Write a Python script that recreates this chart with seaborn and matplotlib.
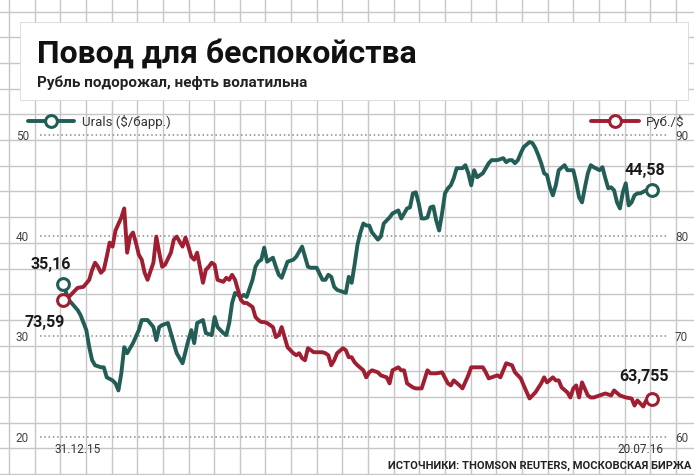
import numpy as np
import pandas as pd
import matplotlib
matplotlib.use('Agg')
import matplotlib.pyplot as plt
from matplotlib.lines import Line2D
from matplotlib.patches import Rectangle
from matplotlib import font_manager as fm
import seaborn as sns

# days since 31.12.15 and Urals price, $/bbl (left axis)
urals_days = [0, 2, 5, 6, 8, 9, 10, 11, 13, 14,
              15, 17, 18, 19, 20, 21, 22, 24, 26, 27,
              29, 31, 32, 33, 34, 36, 37, 38, 39, 41,
              43, 44, 45, 46, 48, 49, 51, 52, 53, 55,
              56, 57, 58, 59, 60, 61, 62, 63, 65, 66,
              67, 68, 69, 70, 72, 73, 74, 75, 76, 77,
              79, 80, 81, 82, 83, 84, 85, 86, 87, 89,
              90, 91, 92, 93, 94, 96, 97, 98, 99, 100,
              101, 102, 103, 104, 105, 106, 108, 109, 110, 111,
              112, 113, 115, 116, 117, 118, 119, 120, 121, 122,
              123, 124, 125, 126, 127, 128, 129, 130, 131, 132,
              133, 134, 135, 137, 138, 139, 140, 141, 142, 144,
              145, 146, 147, 149, 150, 151, 152, 153, 154, 155,
              156, 157, 158, 160, 161, 162, 163, 164, 165, 166,
              167, 168, 169, 170, 172, 173, 174, 175, 176, 177,
              178, 179, 180, 181, 182, 184, 185, 186, 187, 188,
              189, 190, 191, 192, 193, 194, 195, 196, 197, 198,
              200, 202]
urals = [35.16, 33.6, 32.6, 32.1, 30.6, 28.9, 27.6, 27.1, 26.9, 26.9,
         25.9, 25.6, 25.3, 24.6, 26.3, 28.9, 28.3, 29.3, 30.6, 31.6,
         31.6, 30.9, 29.6, 30.9, 31.1, 31.3, 30.3, 29.3, 28.3, 27.3,
         29.6, 30.6, 29.3, 31.3, 31.6, 30.3, 30.1, 31.9, 30.9, 30.3,
         30.1, 31.3, 33.3, 34.3, 34.1, 33.9, 34.1, 33.9, 35.6, 36.9,
         37.4, 37.6, 38.8, 37.4, 37.8, 36.9, 36.1, 35.8, 36.6, 37.4,
         37.6, 37.9, 38.4, 38.9, 37.9, 36.9, 36.8, 36.8, 36.8, 35.6,
         35.6, 36.1, 35.9, 34.9, 34.6, 34.4, 34.3, 35.9, 35.3, 37.1,
         39.1, 40.3, 41.2, 41.0, 41.0, 40.3, 39.6, 39.9, 41.2, 41.5,
         41.8, 42.2, 42.5, 41.7, 42.2, 42.7, 42.8, 44.2, 44.3, 43.2,
         41.7, 41.7, 41.8, 42.8, 42.9, 41.5, 40.5, 42.2, 44.2, 44.7,
         45.0, 45.7, 46.7, 46.7, 47.0, 46.2, 45.0, 46.5, 45.8, 46.2,
         46.7, 47.2, 47.5, 47.5, 47.6, 47.7, 47.3, 47.5, 47.5, 47.2,
         47.5, 48.2, 48.8, 49.3, 49.2, 48.7, 48.0, 47.2, 46.2, 46.0,
         44.8, 44.0, 45.0, 46.5, 47.0, 46.5, 46.5, 46.5, 45.3, 43.8,
         43.3, 44.8, 46.2, 47.0, 46.8, 46.5, 46.8, 45.7, 44.7, 44.8,
         44.5, 43.3, 42.7, 44.3, 45.2, 43.0, 43.3, 44.0, 44.2, 44.2,
         44.5, 44.58]

# days since 31.12.15 and RUB per USD (right axis)
rub_days = [0, 2, 5, 7, 9, 10, 11, 12, 13, 14,
            15, 16, 17, 18, 20, 21, 22, 23, 24, 25,
            26, 27, 28, 29, 31, 32, 33, 34, 35, 37,
            38, 39, 41, 42, 43, 44, 45, 46, 48, 49,
            50, 51, 52, 53, 55, 56, 57, 58, 59, 60,
            61, 62, 63, 65, 66, 67, 68, 69, 70, 72,
            73, 74, 75, 76, 77, 79, 80, 81, 82, 83,
            84, 85, 86, 87, 89, 90, 91, 92, 93, 94,
            96, 97, 98, 99, 100, 101, 103, 104, 105, 106,
            108, 109, 111, 112, 113, 115, 116, 117, 118, 120,
            121, 122, 123, 125, 126, 128, 130, 132, 133, 134,
            136, 137, 139, 140, 142, 144, 145, 146, 149, 150,
            151, 152, 154, 155, 157, 158, 160, 162, 164, 165,
            166, 168, 169, 170, 171, 173, 174, 175, 176, 177,
            178, 180, 181, 182, 184, 186, 188, 189, 191, 193,
            195, 196, 197, 199, 200, 202]
rub = [73.59, 73.9, 74.8, 74.9, 75.6, 76.6, 77.3, 76.9, 76.3, 76.6,
       77.9, 79.3, 78.9, 80.5, 81.8, 82.7, 78.3, 79.9, 80.3, 79.3,
       78.1, 77.6, 76.3, 75.6, 77.3, 79.9, 78.3, 76.9, 77.1, 78.3,
       79.6, 79.9, 78.9, 79.8, 78.9, 77.9, 77.6, 78.3, 75.3, 76.6,
       76.9, 77.3, 77.1, 75.6, 75.4, 75.8, 75.6, 76.1, 75.6, 74.6,
       73.6, 73.3, 73.3, 72.9, 71.9, 71.6, 71.4, 71.4, 71.3, 70.9,
       69.9, 70.1, 70.9, 69.9, 68.9, 68.3, 68.1, 68.3, 67.8, 67.6,
       68.8, 68.6, 68.4, 68.4, 68.4, 68.3, 68.1, 67.1, 67.6, 68.3,
       68.8, 68.6, 67.9, 67.9, 67.4, 67.1, 66.6, 65.9, 66.4, 66.6,
       66.4, 66.1, 65.9, 65.3, 66.6, 66.9, 66.6, 66.6, 65.3, 64.9,
       64.8, 64.8, 64.8, 66.6, 66.3, 66.3, 66.4, 65.3, 65.1, 65.6,
       65.1, 64.8, 66.1, 66.9, 66.9, 66.9, 66.4, 65.8, 66.1, 65.9,
       66.6, 67.3, 67.1, 66.4, 65.8, 65.1, 63.8, 64.4, 65.3, 65.9,
       65.4, 65.9, 65.6, 65.6, 64.9, 64.4, 63.9, 64.8, 65.1, 63.9,
       65.4, 64.1, 63.9, 63.9, 64.1, 64.3, 64.1, 64.6, 64.1, 63.9,
       63.8, 63.1, 63.6, 63.0, 63.6, 63.755]

left_ticks = [20, 30, 40, 50]
right_ticks = [60, 70, 80, 90]
start_date = pd.Timestamp('2015-12-31')
date_labels = ['31.12.15', '20.07.16']

title = 'Повод для беспокойства'
subtitle = 'Рубль подорожал, нефть волатильна'
urals_name = 'Urals ($/барр.)'
rub_name = 'Руб./$'
source = 'ИСТОЧНИКИ: THOMSON REUTERS, МОСКОВСКАЯ БИРЖА'

teal = '#235e56'
red = '#a01e32'

sns.set_theme(style='white')
names = {f.name for f in fm.fontManager.ttflist}
head = 'Roboto' if 'Roboto' in names else 'DejaVu Sans'
narrow = head
plt.rcParams['font.family'] = [head, 'DejaVu Sans']

W, H = 694, 475
fig = plt.figure(figsize=(W / 100, H / 100), dpi=100)
fig.patch.set_facecolor('white')

# graph-paper background
bg = fig.add_axes([0, 0, 1, 1])
bg.set_xlim(0, W)
bg.set_ylim(H, 0)
bg.axis('off')
for gx in np.arange(9, W, 25.65):
    bg.axvline(gx, color='#c6c6c6', lw=1.0, zorder=0)
for gy in np.arange(11.5, H, 25.7):
    bg.axhline(gy, color='#c6c6c6', lw=1.0, zorder=0)
bg.add_patch(Rectangle((20, 22), 668, 78, facecolor='white', edgecolor='#d8d8d8', lw=0.6, zorder=1))
bg.text(37, 63, title, fontsize=23, fontweight='bold', color='#111111', va='baseline', zorder=2)
bg.text(37, 87, subtitle, fontsize=11, fontweight='bold', color='#222222', va='baseline', zorder=2)
bg.text(691, 466, source, fontsize=8, fontweight='bold', color='#222222', family=narrow,
        ha='right', va='center', zorder=2)

# main chart
px_day = 589 / 202
ax = fig.add_axes([40 / W, (H - 450) / H, 628 / W, 330 / H])
ax.patch.set_alpha(0)
ax2 = ax.twinx()
ax2.patch.set_alpha(0)

udates = start_date + pd.to_timedelta(urals_days, unit='D')
rdates = start_date + pd.to_timedelta(rub_days, unit='D')

sns.lineplot(x=udates, y=urals, ax=ax, color=teal, linewidth=2.8)
sns.lineplot(x=rdates, y=rub, ax=ax2, color=red, linewidth=2.8)
for a in (ax, ax2):
    for ln in a.lines:
        ln.set_solid_joinstyle('round')
        ln.set_solid_capstyle('round')

mk = dict(marker='o', ms=8.5, mfc='white', mew=2.2, ls='none', zorder=5)
ax.plot(udates[[0, -1]], [urals[0], urals[-1]], mec=teal, **mk)
ax2.plot(rdates[[0, -1]], [rub[0], rub[-1]], mec=red, **mk)

x0 = start_date - pd.Timedelta(days=23 / px_day)
x1 = start_date + pd.Timedelta(days=202 + 16 / px_day)
ax.set_xlim(x0, x1)
ylo = 20 - 13.3 / 10.05
yhi = 50 + 15 / 10.05
ax.set_ylim(ylo, yhi)
ax2.set_ylim(ylo + 40, yhi + 40)

for a in (ax, ax2):
    for s in a.spines.values():
        s.set_visible(False)
    a.set_xticks([])
    a.set_xlabel('')
    a.set_ylabel('')
    a.grid(False)

ax.set_yticks(left_ticks, labels=[str(t) for t in left_ticks], fontsize=8.5,
              color='#444444', family=narrow)
ax2.set_yticks(right_ticks, labels=[str(t) for t in right_ticks], fontsize=8.5,
               color='#444444', family=narrow)
ax.tick_params(axis='y', length=0, pad=8)
ax2.tick_params(axis='y', length=0, pad=5)
for t in left_ticks:
    ax.axhline(t, color='#8a8a8a', lw=1.1, ls=(0, (1, 1.8)), zorder=0.5)

# value labels
def fmt(v):
    return str(v).replace('.', ',')

lab = dict(fontsize=11.5, fontweight='bold', color='#1a1a1a', ha='center', va='center',
           textcoords='offset points', zorder=6)
ax.annotate(fmt(urals[0]), (udates[0], urals[0]), xytext=(-9, 14), **lab)
ax2.annotate(fmt(rub[0]), (rdates[0], rub[0]), xytext=(-13, -16), **lab)
ax.annotate(fmt(urals[-1]), (udates[-1], urals[-1]), xytext=(-5, 14), **lab)
ax2.annotate(fmt(rub[-1]), (rdates[-1], rub[-1]), xytext=(-6, 16), **lab)

dl = dict(fontsize=8.5, color='#333333', family=narrow, va='center', textcoords='offset points')
ax.annotate(date_labels[0], (udates[0], 20), xytext=(-6, -9), ha='left', **dl)
ax.annotate(date_labels[1], (udates[-1], 20), xytext=(8, -9.5), ha='right', **dl)

# legends
h1 = Line2D([], [], color=teal, lw=2.8, marker='o', ms=8.5, mfc='white', mec=teal, mew=2.2)
h2 = Line2D([], [], color=red, lw=2.8, marker='o', ms=8.5, mfc='white', mec=red, mew=2.2)
leg_kw = dict(frameon=False, borderpad=0, borderaxespad=0, numpoints=1,
              prop={'family': narrow, 'size': 9.5})
l1 = fig.legend([h1], [urals_name], loc='center left', bbox_to_anchor=(28 / W, 1 - 122 / H),
                handlelength=3.5, handletextpad=0.6, **leg_kw)
l2 = fig.legend([h2], [rub_name], loc='center right', bbox_to_anchor=(684 / W, 1 - 122 / H),
                handlelength=3.6, handletextpad=0.5, **leg_kw)
for l in (l1, l2):
    for t in l.get_texts():
        t.set_color('#333333')

fig.savefig('out.png', dpi=100, facecolor='white')
